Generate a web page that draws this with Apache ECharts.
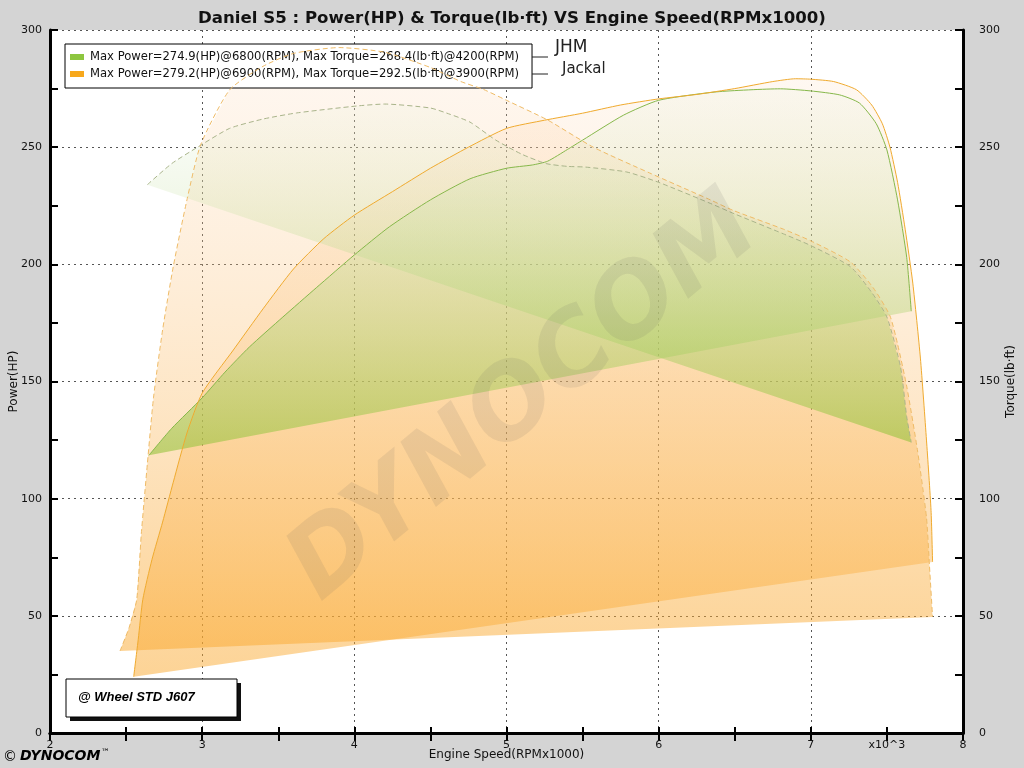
<!DOCTYPE html>
<html><head><meta charset="utf-8">
<script src="https://cdn.jsdelivr.net/npm/echarts@6/dist/echarts.min.js"></script>
<style>html,body{margin:0;padding:0;background:#d4d4d4}#c{width:1024px;height:768px}</style>
</head><body><div id="c"></div>
<script>
// ---- data (RPM x1000, value) ----
const legendNames = [
  'Max Power=274.9(HP)@6800(RPM), Max Torque=268.4(lb·ft)@4200(RPM)',
  'Max Power=279.2(HP)@6900(RPM), Max Torque=292.5(lb·ft)@3900(RPM)'
];
const powerJHM = [[2.65,118.5],[2.8,130],[3.0,143],[3.15,154],[3.31,164.7],[3.53,177.5],[3.75,190],[4.0,204],[4.23,216],[4.5,227.5],[4.76,236.5],[5.0,241],[5.17,242.4],[5.27,244],[5.4,249],[5.5,253],[5.77,263.7],[6.0,270],[6.38,273.6],[6.8,274.9],[7.0,274],[7.19,272.3],[7.32,268.8],[7.43,260],[7.5,248.8],[7.57,227.5],[7.63,203],[7.66,180]];
const torqueJHM = [[2.64,234],[2.8,243],[2.97,250],[3.18,258],[3.4,262],[3.62,264.6],[4.02,267.6],[4.2,268.4],[4.5,266.7],[4.63,264],[4.76,260.7],[4.93,253],[5.1,247],[5.26,243],[5.4,241.8],[5.52,241.5],[5.79,239.4],[6.0,235],[6.34,226],[6.5,221.5],[6.82,213],[7.0,208],[7.26,199],[7.4,188],[7.5,177.5],[7.59,156],[7.63,135],[7.66,124]];
const powerJackal = [[2.55,24],[2.58,40],[2.61,57],[2.67,74],[2.74,90],[2.81,107],[2.9,128],[3.0,145],[3.2,163],[3.4,181],[3.6,198],[3.8,211],[4.0,221],[4.25,231],[4.5,241],[4.75,250],[5.0,258],[5.25,261.5],[5.5,264.5],[5.75,268],[6.0,270.6],[6.25,272.5],[6.5,275],[6.75,278],[6.9,279.2],[7.0,279],[7.15,278],[7.3,274.5],[7.4,268],[7.47,260],[7.52,250],[7.57,235],[7.62,215],[7.67,192],[7.72,160],[7.76,125],[7.79,95],[7.8,73]];
const torqueJackal = [[2.46,35],[2.52,45],[2.57,57],[2.6,85],[2.64,115],[2.68,143],[2.74,172],[2.81,199],[2.9,227.5],[2.99,251],[3.18,274.4],[3.4,284.5],[3.6,290],[3.9,292.5],[4.2,290.5],[4.5,284],[4.7,278],[4.85,274.6],[5.0,270],[5.27,261.6],[5.57,250],[5.94,239],[6.34,227.5],[6.49,223],[6.82,215],[7.0,210],[7.26,201],[7.41,190],[7.52,178],[7.57,166],[7.63,148],[7.7,121],[7.76,92],[7.78,71],[7.8,49.5]];
const xTicks = [2,3,4,5,6,7,8];
const yTicks = [0,50,100,150,200,250,300];

const chart = echarts.init(document.getElementById('c'), null, {renderer:'canvas'});
const F = 'DejaVu Sans';

function grad(top, bottom){
  return new echarts.graphic.LinearGradient(0,0,0,1,[{offset:0,color:top},{offset:1,color:bottom}]);
}
function fillSeries(pts, top, bottom, yIdx, z){
  return {
    type:'custom', yAxisIndex:yIdx, data:pts, encode:{x:0,y:1}, z:z, silent:true,
    renderItem:function(params, api){
      if(params.dataIndex!==0) return null;
      const p = pts.map(d=>api.coord(d));
      return {type:'polygon', shape:{points:p, smooth:0}, style:{fill:grad(top,bottom)}};
    }
  };
}
function lineSeries(name, pts, color, dashed, yIdx){
  return {
    name:name, type:'line', data:pts, yAxisIndex:yIdx, smooth:0.2,
    showSymbol:false, symbol:'none', z:5,
    lineStyle:{color:color, width:1, type: dashed?[5,3]:'solid'},
    itemStyle:{color:color}
  };
}

const oTop='rgba(253,215,180,0.18)', oBot='rgba(250,168,45,0.5)';
const gTop='rgba(225,240,215,0.15)', gBot='rgba(150,195,60,0.6)';

const option = {
  backgroundColor:'#d4d4d4',
  animation:false,
  title:{text:'Daniel S5 : Power(HP) & Torque(lb·ft) VS Engine Speed(RPMx1000)', left:'center', top:5,
    textStyle:{fontFamily:F, fontSize:16.6, fontWeight:'bold', color:'#111'}},
  legend:{
    data:[{name:legendNames[0], itemStyle:{color:'#8dc63f'}},{name:legendNames[1], itemStyle:{color:'#f7a81c'}}],
    orient:'vertical', left:65, top:44, icon:'rect', itemWidth:14, itemHeight:6, itemGap:5,
    backgroundColor:'#fff', borderColor:'#000', borderWidth:1, borderRadius:0, padding:[7,13,8,5],
    textStyle:{fontFamily:F, fontSize:11.6, color:'#111', padding:[0,0,0,1]}, selectedMode:false
  },
  grid:{left:50, right:61, top:30, bottom:35, show:true, backgroundColor:'#fff', borderWidth:0,
        containLabel:false, outerBoundsMode:'none'},
  xAxis:[
    {type:'value', min:2, max:8, interval:0.5, position:'bottom',
      axisLine:{lineStyle:{color:'#000', width:3}},
      axisTick:{inside:true, length:6, lineStyle:{color:'#000', width:2}},
      axisLabel:{margin:7, fontFamily:F, fontSize:11, color:'#111', showMaxLabel:true, showMinLabel:true,
        formatter:v=> (Math.abs(v-7.5)<1e-6 ? 'x10^3' : (xTicks.indexOf(v)>=0 ? String(v) : ''))},
      splitLine:{show:false},
      name:'Engine Speed(RPMx1000)', nameLocation:'middle', nameGap:16, nameMoveOverlap:false,
      nameTextStyle:{fontFamily:F, fontSize:12, color:'#111'}},
    {type:'value', min:2, max:8, interval:1, position:'top',
      axisLine:{lineStyle:{color:'#000', width:3}},
      axisTick:{inside:true, length:8, lineStyle:{color:'#000', width:2}},
      minorTick:{show:true, splitNumber:2, length:8, lineStyle:{color:'#000', width:2}},
      axisLabel:{show:false},
      splitLine:{show:true, lineStyle:{color:'#555', type:[2,4], width:1}}}
  ],
  yAxis:[
    {type:'value', min:0, max:300, interval:50, position:'left',
      axisLine:{show:true, lineStyle:{color:'#000', width:3}},
      axisTick:{show:true, inside:true, length:8, lineStyle:{color:'#000', width:2}},
      minorTick:{show:true, splitNumber:2, length:8, lineStyle:{color:'#000', width:2}},
      axisLabel:{margin:8, fontFamily:F, fontSize:11, color:'#111'},
      splitLine:{show:true, lineStyle:{color:'#555', type:[2,4], width:1}},
      name:'Power(HP)', nameLocation:'middle', nameGap:30, nameRotate:90, nameMoveOverlap:false,
      nameTextStyle:{fontFamily:F, fontSize:12, color:'#111'}},
    {type:'value', min:0, max:300, interval:50, position:'right',
      axisLine:{show:true, lineStyle:{color:'#000', width:3}},
      axisTick:{show:true, inside:true, length:8, lineStyle:{color:'#000', width:2}},
      minorTick:{show:true, splitNumber:2, length:8, lineStyle:{color:'#000', width:2}},
      axisLabel:{margin:16, fontFamily:F, fontSize:11, color:'#111'},
      splitLine:{show:false},
      name:'Torque(lb·ft)', nameLocation:'middle', nameGap:42, nameRotate:90, nameMoveOverlap:false,
      nameTextStyle:{fontFamily:F, fontSize:12, color:'#111'}}
  ],
  series:[
    fillSeries(powerJackal, oTop, oBot, 0, 1),
    fillSeries(torqueJackal, oTop, oBot, 1, 1),
    fillSeries(powerJHM, gTop, gBot, 0, 2),
    fillSeries(torqueJHM, gTop, gBot, 1, 2),
    lineSeries(legendNames[0], powerJHM, '#86b84a', false, 0),
    lineSeries('JHM Torque', torqueJHM, '#a9b48a', true, 1),
    lineSeries(legendNames[1], powerJackal, '#f0aa2e', false, 0),
    lineSeries('Jackal Torque', torqueJackal, '#efbb66', true, 1)
  ],
  graphic:[
    {type:'text', left:272, top:178, z:50, rotation:0.69, silent:true,
      style:{text:'DYNOCOM', font:'italic bold 100px "DejaVu Sans"', fill:'rgba(90,90,90,0.11)'}},
    {type:'rect', shape:{x:70, y:683, width:171, height:38}, style:{fill:'#111'}, z:60},
    {type:'rect', shape:{x:66, y:679, width:171, height:38}, style:{fill:'#fff', stroke:'#000', lineWidth:1}, z:61},
    {type:'text', x:78, y:691, z:62, style:{text:'@ Wheel STD J607', font:'italic bold 13px "Liberation Sans"', fill:'#000'}},
    {type:'text', x:3, y:750, z:62, style:{text:'©', font:'14px "DejaVu Sans"', fill:'#000'}},
    {type:'text', x:20, y:749, z:62, style:{text:'DYNOCOM', font:'italic 900 14px "DejaVu Sans"', fill:'#000'}},
    {type:'text', x:101, y:748, z:62, style:{text:'™', font:'9px "DejaVu Sans"', fill:'#000'}},
    {type:'line', shape:{x1:532, y1:57, x2:548, y2:57}, style:{stroke:'#222', lineWidth:1}, z:62},
    {type:'line', shape:{x1:532, y1:74, x2:548, y2:74}, style:{stroke:'#222', lineWidth:1}, z:62},
    {type:'text', x:555, y:39, z:62, style:{text:'JHM', font:'17px "DejaVu Sans"', fill:'#222'}},
    {type:'text', x:562, y:62, z:62, style:{text:'Jackal', font:'15px "DejaVu Sans"', fill:'#222'}}
  ]
};
chart.setOption(option);
</script>
</body></html>
